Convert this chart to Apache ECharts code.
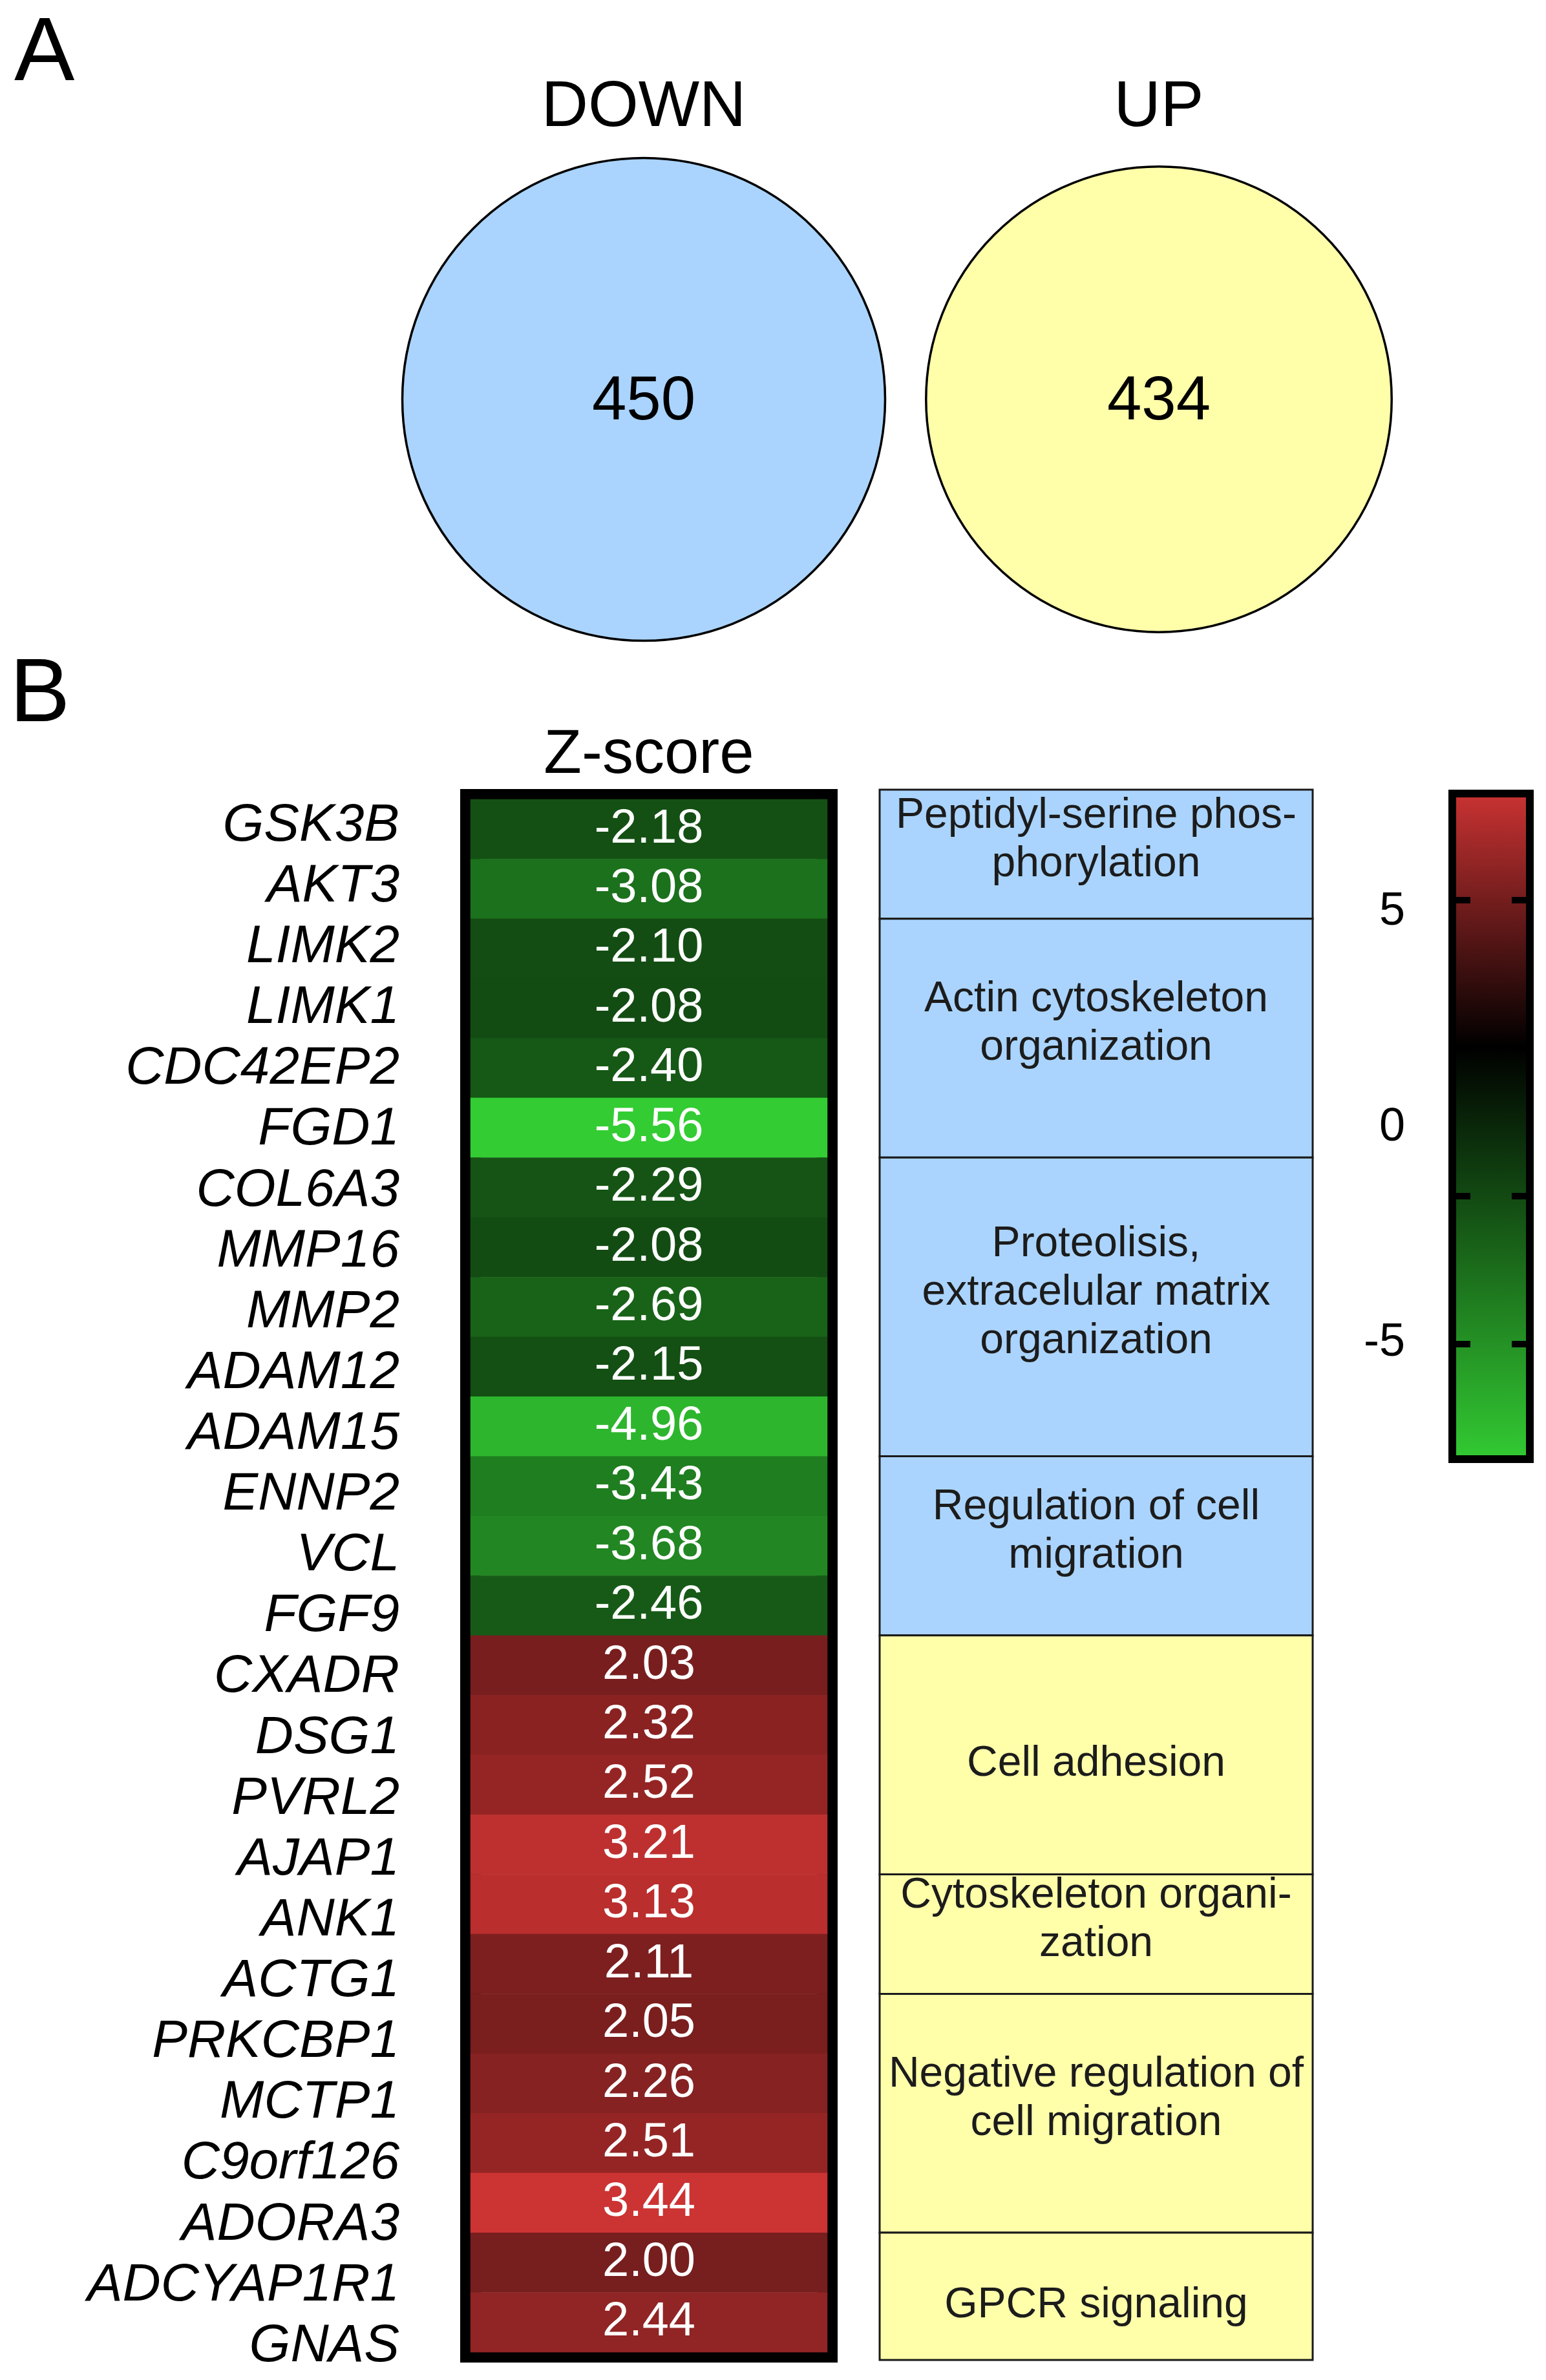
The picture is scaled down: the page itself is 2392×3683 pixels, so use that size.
<!DOCTYPE html>
<html><head><meta charset="utf-8">
<script src="https://cdn.jsdelivr.net/npm/echarts@6/dist/echarts.min.js"></script>
<style>html,body{margin:0;padding:0;background:#fff}#c{width:2392px;height:3683px}</style>
</head><body><div id="c"></div>
<script>
// ---------- data ----------
const vennLabels = ['DOWN', 'UP'];
const vennCounts = [450, 434];

const downGenes = ['GSK3B','AKT3','LIMK2','LIMK1','CDC42EP2','FGD1','COL6A3','MMP16','MMP2','ADAM12','ADAM15','ENNP2','VCL','FGF9'];
const downZ = [-2.18,-3.08,-2.10,-2.08,-2.40,-5.56,-2.29,-2.08,-2.69,-2.15,-4.96,-3.43,-3.68,-2.46];
const upGenes = ['CXADR','DSG1','PVRL2','AJAP1','ANK1','ACTG1','PRKCBP1','MCTP1','C9orf126','ADORA3','ADCYAP1R1','GNAS'];
const upZ = [2.03,2.32,2.52,3.21,3.13,2.11,2.05,2.26,2.51,3.44,2.00,2.44];

const termLabels = [
  'Peptidyl-serine phos-\nphorylation',
  'Actin cytoskeleton\norganization',
  'Proteolisis,\nextracelular matrix\norganization',
  'Regulation of cell\nmigration',
  'Cell adhesion',
  'Cytoskeleton organi-\nzation',
  'Negative regulation of\ncell migration',
  'GPCR signaling'
];
const termRows = [2, 4, 5, 3, 4, 2, 4, 2];
const termGroups = ['DOWN','DOWN','DOWN','DOWN','UP','UP','UP','UP'];

const colorbarTicks = [2, 0, -2, -4];
const colorbarLabels = [5, 0, -5];

// ---------- styles ----------
const FONT = '"Liberation Sans", Arial, Helvetica, sans-serif';
const groupColors = { DOWN: '#aad4fe', UP: '#ffffaa' };
const GREEN = '#33cc33', RED = '#cc3333', BLACK = '#000000';

// ---------- derived ----------
const allGenes = downGenes.concat(upGenes);
const zMin = Math.min(...downZ);
const zMax = Math.max(...upZ);
const blackOffset = zMax / (zMax - zMin);

let acc = 0;
const termData = termRows.map((n, i) => {
  const s = acc; acc += n;
  return [s, acc, termGroups[i] === 'DOWN' ? 0 : 1];
});

const chart = echarts.init(document.getElementById('c'), null, { renderer: 'canvas' });

const option = {
  animation: false,
  backgroundColor: '#ffffff',
  textStyle: { fontFamily: FONT },
  title: [
    { text: 'A', left: 17, top: 10, textStyle: { fontSize: 140, fontWeight: 'normal', color: '#000', fontFamily: FONT } },
    { text: 'B', left: 10, top: 1002, textStyle: { fontSize: 140, fontWeight: 'normal', color: '#000', fontFamily: FONT } }
  ],
  grid: [
    { left: 597.5, top: 240, width: 1594, height: 756 },
    { left: 728, top: 1237, width: 552, height: 2403, show: true, borderWidth: 32, borderColor: '#000', backgroundColor: 'transparent', z: 0 },
    { left: 1361, top: 1222, width: 670, height: 2430 },
    { left: 2247, top: 1228, width: 120, height: 1030, show: true, borderWidth: 12, borderColor: '#000', z: 0,
      backgroundColor: { type: 'linear', x: 0, y: 0, x2: 0, y2: 1,
        colorStops: [ { offset: 0, color: RED }, { offset: blackOffset, color: BLACK }, { offset: 1, color: GREEN } ] } },
    { left: 728, top: 1231, width: 1, height: 2447 }
  ],
  xAxis: [
    { gridIndex: 0, type: 'category', data: vennLabels, position: 'top',
      axisLine: { show: false }, axisTick: { show: false }, splitLine: { show: false },
      axisLabel: { fontSize: 100, margin: 23, color: '#000', fontFamily: FONT } },
    { gridIndex: 1, type: 'category', data: ['Z-score'], position: 'top',
      axisLine: { show: false }, axisTick: { show: false }, splitLine: { show: false },
      axisLabel: { fontSize: 96, margin: 19, color: '#000', fontFamily: FONT } },
    { gridIndex: 2, type: 'value', min: 0, max: 1, show: false },
    { gridIndex: 3, type: 'category', data: [''], show: false },
    { gridIndex: 4, type: 'value', min: 0, max: 1, show: false }
  ],
  yAxis: [
    { gridIndex: 0, type: 'value', min: 0, max: 1, show: false },
    { gridIndex: 1, type: 'category', data: allGenes, inverse: true, show: false },
    { gridIndex: 2, type: 'value', min: -0.16, max: 26.13, inverse: true, show: false },
    { gridIndex: 3, type: 'value', min: zMin, max: zMax, position: 'left', z: 10,
      axisLine: { show: false }, axisLabel: { show: false }, splitLine: { show: false },
      axisTick: { show: true, inside: true, length: 28, customValues: colorbarTicks, lineStyle: { width: 10, color: '#000' } } },
    { gridIndex: 3, type: 'value', min: zMin, max: zMax, position: 'right', z: 10,
      axisLine: { show: false }, axisLabel: { show: false }, splitLine: { show: false },
      axisTick: { show: true, inside: true, length: 28, customValues: colorbarTicks, lineStyle: { width: 10, color: '#000' } } },
    { gridIndex: 3, type: 'value', min: -7.7, max: 7.75, position: 'left', z: 10,
      axisLine: { show: false }, axisTick: { show: false }, splitLine: { show: false },
      axisLabel: { show: true, customValues: colorbarLabels, fontSize: 72, margin: 73, color: '#000', fontFamily: FONT } },
    { gridIndex: 4, type: 'category', data: allGenes, inverse: true, position: 'left',
      axisLine: { show: false }, axisTick: { show: false }, splitLine: { show: false },
      axisLabel: { interval: 0, fontSize: 82, fontStyle: 'italic', margin: 110, color: '#000', fontFamily: FONT } }
  ],
  visualMap: [
    { type: 'continuous', show: false, seriesIndex: 1, dimension: 2, min: zMin, max: 0, inRange: { color: [GREEN, BLACK] } },
    { type: 'continuous', show: false, seriesIndex: 2, dimension: 2, min: 0, max: zMax, inRange: { color: [BLACK, RED] } }
  ],
  series: [
    { type: 'scatter', xAxisIndex: 0, yAxisIndex: 0,
      data: vennLabels.map((l, i) => [i, 0.5, vennCounts[i]]),
      symbol: 'circle',
      symbolSize: v => v[2] * 1.66,
      itemStyle: { color: p => groupColors[vennLabels[p.dataIndex]], borderColor: '#000', borderWidth: 3.5, opacity: 1 },
      label: { show: true, position: 'inside', formatter: p => String(p.value[2]), fontSize: 96, color: '#000', fontFamily: FONT, offset: [0, 5] },
      emphasis: { disabled: true }, silent: true },
    { type: 'heatmap', xAxisIndex: 1, yAxisIndex: 1,
      data: downZ.map((v, i) => [0, i, v]),
      label: { show: true, color: '#fff', fontSize: 74, fontFamily: FONT, formatter: p => p.value[2].toFixed(2) },
      emphasis: { disabled: true }, silent: true },
    { type: 'heatmap', xAxisIndex: 1, yAxisIndex: 1,
      data: upZ.map((v, i) => [0, downGenes.length + i, v]),
      label: { show: true, color: '#fff', fontSize: 74, fontFamily: FONT, formatter: p => p.value[2].toFixed(2) },
      emphasis: { disabled: true }, silent: true },
    { type: 'custom', xAxisIndex: 2, yAxisIndex: 2, silent: true,
      data: termData,
      renderItem: (params, api) => {
        const idx = params.dataIndex;
        const cs = params.coordSys;
        const p0 = api.coord([0, api.value(0)]);
        const p1 = api.coord([1, api.value(1)]);
        let y0 = p0[1], y1 = p1[1];
        if (idx === 0) y0 = cs.y;
        if (idx === termData.length - 1) y1 = cs.y + cs.height;
        const x = p0[0], w = p1[0] - p0[0], h = y1 - y0;
        const g = api.value(2) === 0 ? 'DOWN' : 'UP';
        const multi = termLabels[idx].indexOf('\n') >= 0;
        return { type: 'group', children: [
          { type: 'rect', shape: { x: x, y: y0, width: w, height: h },
            style: { fill: groupColors[g], stroke: '#1a1a1a', lineWidth: 3 } },
          { type: 'text', style: { text: termLabels[idx], x: x + w / 2, y: y0 + h / 2 + (multi ? -22 : 14),
            align: 'center', verticalAlign: 'middle', fontSize: 66, fontFamily: FONT, lineHeight: 75, fill: '#1c1c1c' } }
        ] };
      } }
  ]
};
chart.setOption(option);
</script>
</body></html>
